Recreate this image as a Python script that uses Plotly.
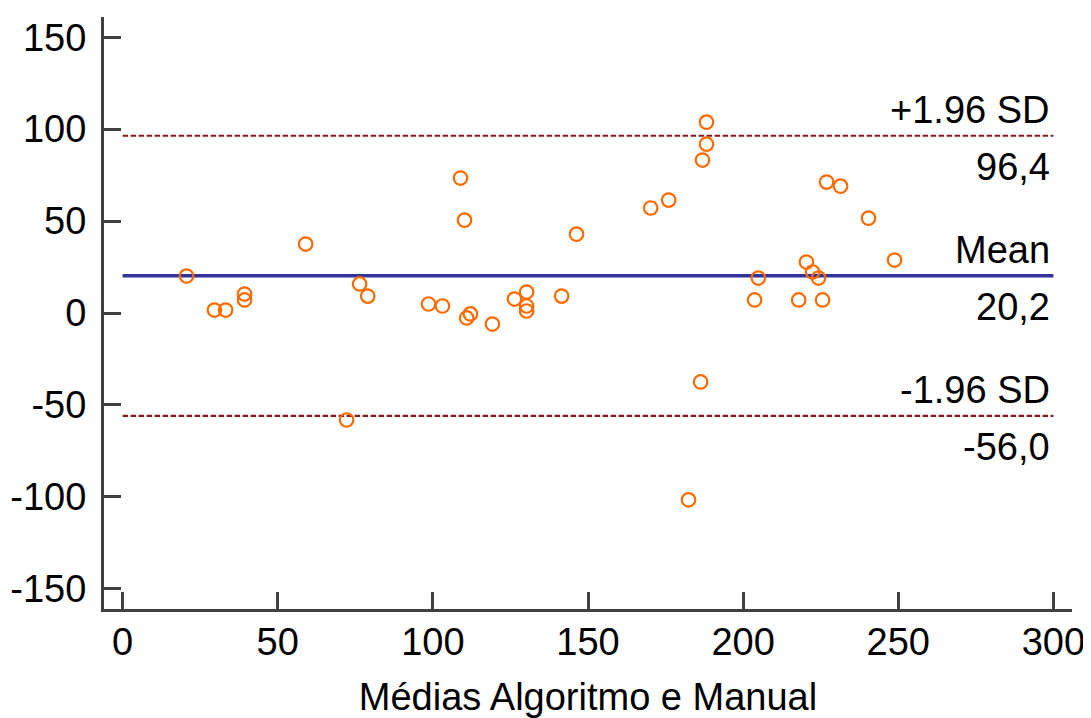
import plotly.graph_objects as go

# Bland-Altman data: mean of methods (x) vs difference (y)
medias = [20.6, 29.6, 33.2, 39.3, 39.3, 59.0, 72.2, 76.4, 79.0, 98.6,
          103.1, 108.9, 110.2, 110.9, 112.1, 119.2, 126.3, 130.2, 130.2, 130.2,
          141.5, 146.3, 170.2, 176.0, 182.4, 186.3, 186.9, 188.2, 188.2, 203.7,
          204.9, 217.9, 220.4, 222.4, 224.3, 225.6, 226.9, 231.4, 240.4, 248.8]
diferencas = [20.1, 1.6, 1.6, 10.3, 7.1, 37.5, -58.2, 15.8, 9.2, 4.9,
              3.8, 73.4, 50.5, -2.7, -0.5, -6.0, 7.6, 11.4, 3.8, 1.1,
              9.2, 42.9, 57.1, 61.4, -101.6, -37.5, 83.2, 91.8, 103.8, 7.1,
              19.0, 7.1, 27.7, 22.3, 19.0, 7.1, 71.2, 69.0, 51.6, 28.8]

mean_diff = 20.2
upper_loa = 96.4
lower_loa = -56.0
line_x = [0, 300]

x_ticks = [0, 50, 100, 150, 200, 250, 300]
y_ticks = [-150, -100, -50, 0, 50, 100, 150]
y_tick_text = ["-150", "-100", "-50", "0", "50", "100", "150"]

FONT = "Liberation Sans, Arial, sans-serif"
FS = 38
AXIS_COLOR = "#404040"

fig = go.Figure()

fig.add_trace(go.Scatter(x=line_x, y=[upper_loa, upper_loa], mode="lines",
                         line=dict(color="#8B1A1A", width=2.2, dash="5.5px,2.5px"),
                         hoverinfo="skip", showlegend=False))
fig.add_trace(go.Scatter(x=line_x, y=[lower_loa, lower_loa], mode="lines",
                         line=dict(color="#8B1A1A", width=2.2, dash="5.5px,2.5px"),
                         hoverinfo="skip", showlegend=False))
fig.add_trace(go.Scatter(x=line_x, y=[mean_diff, mean_diff], mode="lines",
                         line=dict(color="#333399", width=3.5),
                         hoverinfo="skip", showlegend=False))

fig.add_trace(go.Scatter(x=medias, y=diferencas, mode="markers",
                         marker=dict(symbol="circle-open", size=13.5,
                                     color="#FF6A00", line=dict(width=2.2)),
                         showlegend=False))

def fmt(v):
    return f"{v:.1f}".replace(".", ",")

labels = [("+1.96 SD", upper_loa), ("Mean", mean_diff), ("-1.96 SD", lower_loa)]
annotations = []
for name, val in labels:
    annotations.append(dict(x=300, y=val, xref="x", yref="y", text=name,
                            showarrow=False, xanchor="right", yanchor="middle",
                            xshift=-1, yshift=26,
                            font=dict(size=FS, color="black", family=FONT)))
    annotations.append(dict(x=300, y=val, xref="x", yref="y", text=fmt(val),
                            showarrow=False, xanchor="right", yanchor="middle",
                            xshift=-1, yshift=-31,
                            font=dict(size=FS, color="black", family=FONT)))

# page body adds an 8px offset; figure sized to fit the window
fig.update_layout(
    width=1083, height=710,
    margin=dict(l=96, r=19, t=9, b=109),
    paper_bgcolor="white", plot_bgcolor="white",
    font=dict(family=FONT, size=FS, color="black"),
    annotations=annotations,
    xaxis=dict(range=[-6, 306], tickvals=x_ticks, ticks="inside", ticklen=17,
               tickwidth=3, tickcolor=AXIS_COLOR, showline=True, linewidth=3,
               linecolor=AXIS_COLOR, showgrid=False, zeroline=False,
               automargin=False,
               tickfont=dict(size=FS, family=FONT, color="black"),
               ticklabelstandoff=-3,
               title=dict(text="Médias Algoritmo e Manual",
                          font=dict(size=FS, family=FONT, color="black"),
                          standoff=22)),
    yaxis=dict(range=[-161, 161], tickvals=y_ticks, ticktext=y_tick_text,
               ticks="inside", ticklen=17,
               tickwidth=3, tickcolor=AXIS_COLOR, showline=True, linewidth=3,
               linecolor=AXIS_COLOR, showgrid=False, zeroline=False,
               automargin=False,
               tickfont=dict(size=FS, family=FONT, color="black"),
               ticklabelstandoff=7),
)

fig.write_html("out.html")
